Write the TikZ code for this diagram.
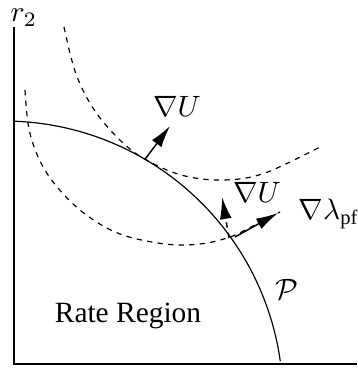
\documentclass[tikz,border=0pt]{standalone}
\usepackage{fontspec}
\setmainfont{Liberation Serif}
\usepackage{amsmath}
\usetikzlibrary{arrows.meta}

\begin{document}
\begin{tikzpicture}[x=0.34pt,y=0.34pt,
  levelcurve/.style={line width=0.4pt,dash pattern=on 1.8pt off 1.8pt},
  gradarrow/.style={line width=0.5pt,-{Latex[length=7.5pt,width=4pt]}}]
  \useasboundingbox (0,0) rectangle (357,374);
  % axes
  \coordinate (o) at (14,10);
  \coordinate (ytop) at (14,347);
  \coordinate (xend) at (357,10);
  \draw[line width=0.5pt] (ytop) -- (o) -- (xend);
  \node[anchor=base west,inner sep=0pt] (r2) at (10,352) {$r_2$};
  % boundary of the rate region
  \draw[line width=0.4pt] plot[domain=88:8,samples=60] ({4+279*cos(\x)},{-26+279*sin(\x)});
  % level curves of U
  \draw[levelcurve] plot[smooth,tension=0.6] coordinates {(64,347) (76,300) (95,263) (123,231) (150,212) (185,198) (225,194) (265,201) (320,227)};
  \draw[levelcurve] plot[smooth,tension=0.6] coordinates {(25,284) (29,245) (40,213) (58,186) (85,160) (120,140) (165,130) (200,130) (230,137) (255,149) (280,162)};
  % gradients
  \coordinate (t1) at (145,214.7);
  \coordinate (h1) at (170,248);
  \coordinate (t2) at (229,136);
  \coordinate (h2) at (222,177);
  \coordinate (t3) at (235,137);
  \coordinate (h3) at (278,161);
  \draw[gradarrow] (t1) -- (h1);
  \draw[gradarrow,dash pattern=on 1.8pt off 1.8pt] (t2) -- (h2);
  \draw[gradarrow] (t3) -- (h3);
  % labels
  \node (gradU1) at (177,268) {$\nabla U$};
  \node (gradU2) at (257,182) {$\nabla U$};
  \node[anchor=west,inner sep=0pt] (gradL) at (298,160) {$\nabla\lambda_{\mathrm{pf}}$};
  \node (pset) at (287,85) {$\mathcal{P}$};
  \node (region) at (128,58) {Rate Region};
\end{tikzpicture}
\end{document}
